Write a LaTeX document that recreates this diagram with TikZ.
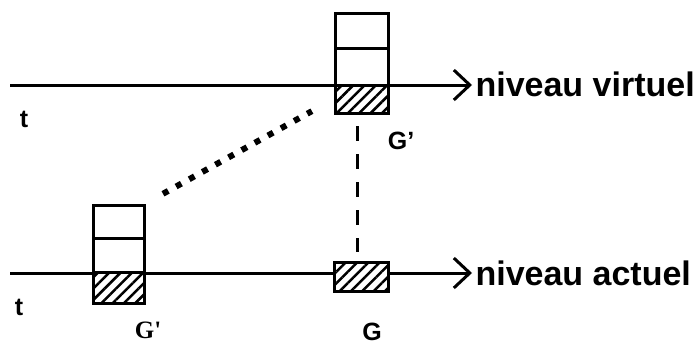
\documentclass[tikz,border=0pt]{standalone}
\usepackage{fontspec}
\setmainfont{Liberation Sans}
\newfontfamily\seriffont{Liberation Serif}
\usetikzlibrary{arrows.meta, patterns.meta}

\begin{document}
\begin{tikzpicture}[x=1pt, y=-1pt,
		cell/.style={draw, line width=3pt, fill=white, inner sep=0pt},
		hatched/.style={cell, preaction={fill=white}, pattern={Lines[angle=45, distance=8pt, line width=2.5pt]}},
		axis/.style={line width=3pt, -{Straight Barb[length=16pt, width=30pt]}},
		level/.style={font=\fontsize{34}{40}\selectfont\bfseries, anchor=base west},
		glabel/.style={font=\fontsize{25}{30}\selectfont\bfseries}]
	\useasboundingbox (0,0) rectangle (696,348);
	% axes
	\coordinate (tv) at (10,85);
	\coordinate (ta) at (10,273);
	\node[level] (virt) at (472,96) {niveau virtuel};
	\node[level] (act) at (472,285) {niveau actuel};
	\draw[axis] (tv) -- (tv -| virt.west);
	\draw[axis] (ta) -- (ta -| act.west);
	% stack on the virtual level
	\node[cell, minimum width=53, minimum height=35] (vtop) at (361.5,30.5) {};
	\node[cell, minimum width=53, minimum height=37] (vmid) at (361.5,66.5) {};
	\node[hatched, minimum width=53, minimum height=28] (vhat) at (361.5,99) {};
	% stack on the actual level
	\node[cell, minimum width=51, minimum height=33] (atop) at (118.5,221.5) {};
	\node[cell, minimum width=51, minimum height=34] (amid) at (118.5,255) {};
	\node[hatched, minimum width=51, minimum height=31] (ahat) at (118.5,287.5) {};
	\node[hatched, minimum width=54, minimum height=29] (gbox) at (361,276.5) {};
	% links
	\draw[line width=6pt, dash pattern=on 6pt off 9pt, shorten <=20pt, shorten >=25pt] (atop.north east) -- (vhat.west);
	\draw[line width=3pt, dash pattern=on 15pt off 13pt, shorten <=12pt, shorten >=9pt] ([xshift=-4pt]vhat.south) -- ([xshift=-4pt]vhat.south |- gbox.north);
	% labels
	\node[glabel] (tvirt) at (24,119) {t};
	\node[glabel] (tact) at (19,307) {t};
	\node[glabel] (gvirt) at (401,141) {G'};
	\node[glabel, font=\fontsize{25}{30}\selectfont\bfseries\seriffont] (gact) at (148,330) {G'};
	\node[glabel] (g) at (372,332) {G};
\end{tikzpicture}
\end{document}
